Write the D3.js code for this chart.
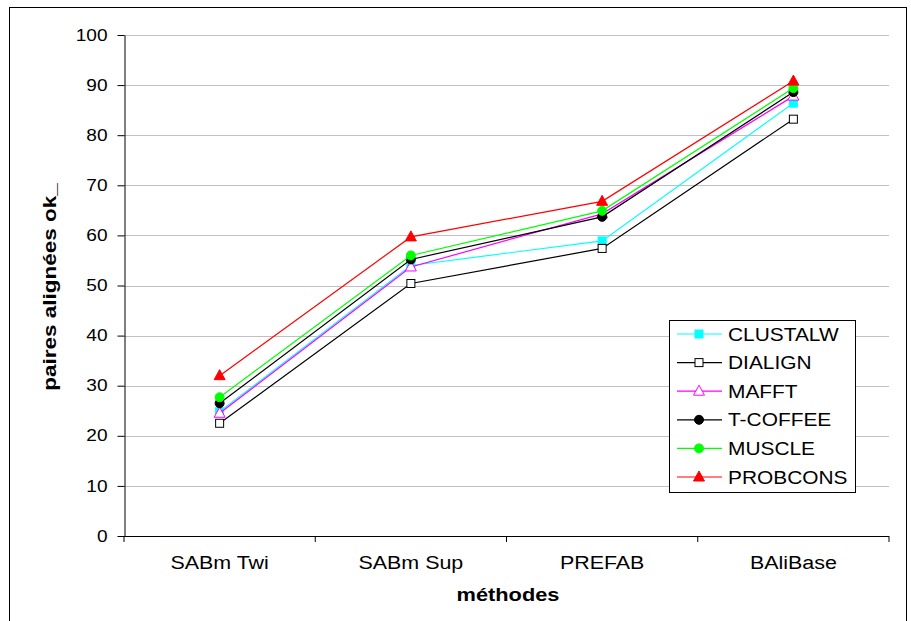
<!DOCTYPE html>
<html><head><meta charset="utf-8">
<script src="https://cdn.jsdelivr.net/npm/d3@7"></script>
<style>body{margin:0;background:#fff}svg{display:block}text{font-family:"Liberation Sans",Arial,sans-serif}</style>
</head><body><svg id="c" width="911" height="621"></svg>
<script>
const categories = ["SABm Twi", "SABm Sup", "PREFAB", "BAliBase"];
const seriesNames = ["CLUSTALW", "DIALIGN", "MAFFT", "T-COFFEE", "MUSCLE", "PROBCONS"];
const clustalw = [24.8, 54.0, 58.9, 86.4];
const dialign  = [22.5, 50.4, 57.4, 83.2];
const mafft    = [24.5, 53.7, 64.3, 87.8];
const tcoffee  = [26.5, 55.2, 63.7, 88.6];
const muscle   = [27.7, 56.0, 64.9, 89.4];
const probcons = [32.0, 59.7, 66.8, 90.8];
const yTicks = [0,10,20,30,40,50,60,70,80,90,100];

const seriesValues = [clustalw, dialign, mafft, tcoffee, muscle, probcons];
const styles = [
  {color:"#00FFFF", shape:"square", fill:"#00FFFF"},
  {color:"#000000", shape:"square", fill:"#FFFFFF"},
  {color:"#FF00FF", shape:"triangle", fill:"#FFFFFF"},
  {color:"#000000", shape:"circle", fill:"#000000"},
  {color:"#00FF00", shape:"circle", fill:"#00FF00"},
  {color:"#FF0000", shape:"triangle", fill:"#FF0000"}
];

const svg = d3.select("#c");
const L=124, R=889, T=35, B=536;
const x = d3.scaleBand().domain(categories).range([L,R]);
const y = d3.scaleLinear().domain([0,100]).range([B,T]);

function stretch(sel, f){
  sel.each(function(){
    const w = this.getComputedTextLength();
    d3.select(this).attr("textLength", w*f).attr("lengthAdjust","spacingAndGlyphs");
  });
}

// outer frame
svg.append("rect").attr("x",9.5).attr("y",7.5).attr("width",897).attr("height",640)
  .attr("fill","none").attr("stroke","#000").attr("stroke-width",1);

// gridlines
svg.append("g").selectAll("line").data(yTicks.filter(d=>d>0)).join("line")
  .attr("x1",L).attr("x2",R).attr("y1",d=>Math.round(y(d))+0.5).attr("y2",d=>Math.round(y(d))+0.5)
  .attr("stroke","#c0c0c0").attr("stroke-width",1);

// y axis
const ya = svg.append("g").attr("transform",`translate(${L+0.5},0)`)
  .call(d3.axisLeft(y).tickValues(yTicks).tickSize(7).tickSizeOuter(0).tickPadding(10));
ya.select(".domain").attr("stroke","#000");
ya.selectAll("text").attr("font-size",16).attr("fill","#000");
stretch(ya.selectAll("text"), 1.19);

// x axis
const xa = svg.append("g").attr("transform",`translate(0,${B+0.5})`)
  .call(d3.axisBottom(x).tickSize(0).tickPadding(20));
xa.select(".domain").attr("stroke","#000").attr("d",`M${L},0H${R}`);
xa.selectAll("text").attr("font-size",18).attr("fill","#000");
stretch(xa.selectAll("text"), 1.19);
svg.append("g").selectAll("line").data(d3.range(categories.length+1)).join("line")
  .attr("x1",i=>L+i*x.step()).attr("x2",i=>L+i*x.step())
  .attr("y1",B).attr("y2",B+6).attr("stroke","#000");

// axis titles
const xt = svg.append("text").attr("x",508).attr("y",601).attr("text-anchor","middle")
  .attr("font-size",18).attr("font-weight","bold").text("méthodes");
stretch(xt, 1.21);
const yt = svg.append("text").attr("transform","translate(56,287) rotate(-90)").attr("text-anchor","middle")
  .attr("font-size",18).attr("font-weight","bold").text("paires alignées ok_");
stretch(yt, 1.25);

function marker(g, shape, cx, cy, st){
  if(shape==="square"){
    g.append("rect").attr("x",cx-4).attr("y",cy-4).attr("width",8).attr("height",8)
      .attr("fill",st.fill).attr("stroke",st.color).attr("stroke-width",1);
  } else if(shape==="circle"){
    g.append("circle").attr("cx",cx).attr("cy",cy).attr("r",4.5).attr("fill",st.fill).attr("stroke",st.color);
  } else {
    g.append("path").attr("d",`M${cx},${cy-6}L${cx+5.5},${cy+4}L${cx-5.5},${cy+4}Z`)
      .attr("fill",st.fill).attr("stroke",st.color).attr("stroke-width",1);
  }
}

const line = d3.line().x((d,i)=>x(categories[i])+x.bandwidth()/2).y(d=>y(d));
seriesValues.forEach((vals,si)=>{
  const st = styles[si];
  const g = svg.append("g");
  g.append("path").attr("d",line(vals)).attr("fill","none").attr("stroke",st.color).attr("stroke-width",1.2);
  vals.forEach((v,i)=>marker(g, st.shape, x(categories[i])+x.bandwidth()/2, y(v), st));
});

// legend
const lg = svg.append("g");
lg.append("rect").attr("x",669.5).attr("y",320.5).attr("width",186).attr("height",172)
  .attr("fill","#fff").attr("stroke","#000");
seriesNames.forEach((n,i)=>{
  const st = styles[i];
  const cy = 334 + i*28.6;
  lg.append("line").attr("x1",677).attr("x2",722).attr("y1",cy).attr("y2",cy).attr("stroke",st.color).attr("stroke-width",1.2);
  marker(lg, st.shape, 699, cy, st);
  const t = lg.append("text").attr("x",728).attr("y",cy+6.5).attr("font-size",18).attr("fill","#000").text(n);
  stretch(t, 1.16);
});
</script></body></html>
